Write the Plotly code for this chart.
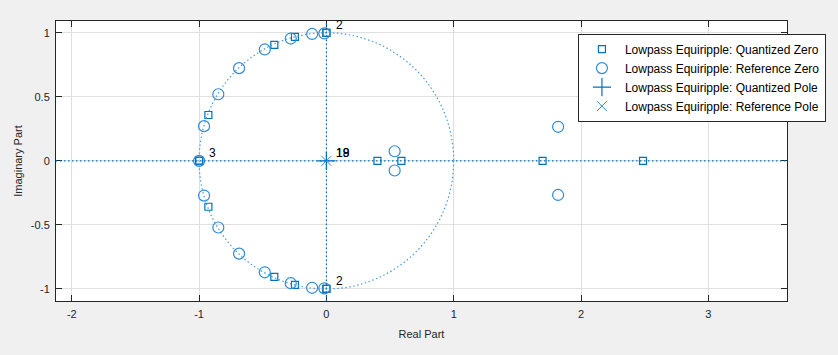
import plotly.graph_objects as go

# Quantized zeros
qz_re = [-1.0, -1.0, -1.0, -0.927, -0.927, -0.409, -0.409, -0.247, -0.247,
         0.0, 0.0, 0.0, 0.0, 0.401, 0.589, 1.698, 2.487]
qz_im = [0.0, 0.0, 0.0, 0.358, -0.358, 0.906, -0.906, 0.968, -0.968,
         1.0, 1.0, -1.0, -1.0, 0.0, 0.0, 0.0, 0.0]

# Reference zeros
rz_re = [-1.0, -0.961, -0.961, -0.849, -0.849, -0.686, -0.686, -0.484, -0.484,
         -0.280, -0.280, -0.112, -0.112, -0.016, -0.016, 0.536, 0.536, 1.820, 1.820]
rz_im = [0.0, 0.271, -0.271, 0.520, -0.520, 0.724, -0.724, 0.870, -0.870,
         0.955, -0.955, 0.991, -0.991, 0.995, -0.995, 0.075, -0.075, 0.266, -0.266]

# Poles (all at origin)
qp_re = [0.0]
qp_im = [0.0]
rp_re = [0.0]
rp_im = [0.0]

# Multiplicity labels
lab_x = [-1.0, 0.0, 0.0, 0.0, 0.0]
lab_y = [0.0, 1.0, -1.0, 0.0, 0.0]
lab_t = ["3", "2", "2", "19", "18"]

xticks = [-2, -1, 0, 1, 2, 3]
yticks = [-1, -0.5, 0, 0.5, 1]

blue = "#0072BD"
circ = "#2f8bd6"
font = "Liberation Sans, Arial, sans-serif"

fig = go.Figure()
fig.add_trace(go.Scatter(x=qz_re, y=qz_im, mode="markers", name="Lowpass Equiripple: Quantized Zero",
                         marker=dict(symbol="square-open", size=7, color=blue, line=dict(width=1.2))))
fig.add_trace(go.Scatter(x=rz_re, y=rz_im, mode="markers", name="Lowpass Equiripple: Reference Zero",
                         marker=dict(symbol="circle-open", size=11, color=circ, line=dict(width=1.2))))
fig.add_trace(go.Scatter(x=qp_re, y=qp_im, mode="markers", name="Lowpass Equiripple: Quantized Pole",
                         marker=dict(symbol="cross-thin-open", size=13, color=blue, line=dict(width=1.2, color=blue))))
fig.add_trace(go.Scatter(x=rp_re, y=rp_im, mode="markers", name="Lowpass Equiripple: Reference Pole",
                         marker=dict(symbol="x-thin-open", size=10, color=circ, line=dict(width=1, color=circ))))

shapes = [
    dict(type="circle", xref="x", yref="y", x0=-1, x1=1, y0=-1, y1=1,
         line=dict(color="#4a9ad8", width=1.2, dash="1.5px,2.5px"), layer="above"),
    dict(type="line", xref="paper", yref="y", x0=0, x1=1, y0=0, y1=0,
         line=dict(color=blue, width=1.2, dash="1.5px,2.5px"), layer="above"),
    dict(type="line", xref="x", yref="paper", x0=0, x1=0, y0=0, y1=1,
         line=dict(color=blue, width=1.2, dash="1.5px,2.5px"), layer="above"),
]

annotations = []
for x, y, t in zip(lab_x, lab_y, lab_t):
    annotations.append(dict(x=x, y=y, xref="x", yref="y", text=t, showarrow=False,
                            xanchor="left", yanchor="middle", xshift=8, yshift=8,
                            font=dict(family=font, size=12, color="#000000")))

fig.update_layout(
    width=838, height=355,
    margin=dict(l=56, r=48, t=21, b=54),
    paper_bgcolor="#f0f0f0", plot_bgcolor="#ffffff",
    font=dict(family=font, size=11, color="#262626"),
    shapes=shapes, annotations=annotations,
    showlegend=True,
    legend=dict(x=0.714, y=0.955, xanchor="left", yanchor="top",
                bgcolor="#ffffff", bordercolor="#262626", borderwidth=1,
                font=dict(family=font, size=12, color="#000000"),
                itemwidth=36, tracegroupgap=0),
)
fig.update_xaxes(range=[-2.124, 3.618], tickvals=xticks, ticktext=[str(v) for v in xticks],
                 showgrid=True, gridcolor="#dfdfdf", zeroline=False, automargin=False,
                 showline=True, linecolor="#262626", linewidth=1, mirror="allticks",
                 ticks="inside", ticklen=6, tickcolor="#262626", ticklabelstandoff=3,
                 title=dict(text="Real Part", standoff=11, font=dict(size=11)))
fig.update_yaxes(range=[-1.094, 1.092], tickvals=yticks, ticktext=["-1", "-0.5", "0", "0.5", "1"],
                 showgrid=True, gridcolor="#dfdfdf", zeroline=False, automargin=False,
                 showline=True, linecolor="#262626", linewidth=1, mirror="allticks",
                 ticks="inside", ticklen=6, tickcolor="#262626", ticklabelstandoff=3,
                 title=dict(text="Imaginary Part", standoff=5, font=dict(size=11)))

fig.write_html("out.html", config={"displayModeBar": False},
               post_script="document.body.style.margin='0';document.body.style.padding='0';")
